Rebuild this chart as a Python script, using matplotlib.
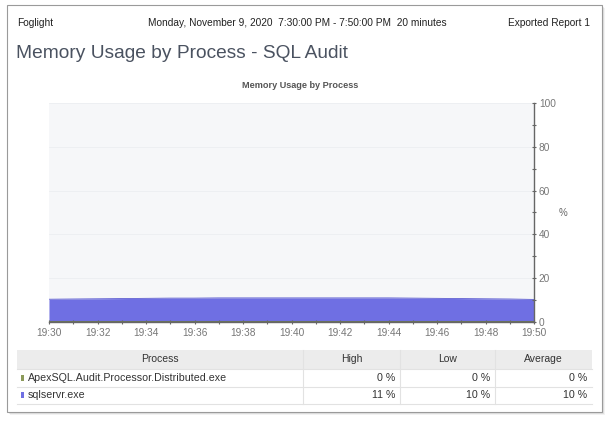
import matplotlib.pyplot as plt
from matplotlib.patches import Rectangle

plt.rcParams['font.family'] = ['Liberation Sans', 'DejaVu Sans']

# time axis in minutes after 19:30
minutes = list(range(0, 21))
sqlservr = [10.4, 10.5, 10.6, 10.7, 10.8, 10.9, 10.9, 11.0, 11.0, 11.0, 11.0,
            11.0, 11.0, 11.0, 11.0, 10.9, 10.8, 10.7, 10.6, 10.5, 10.3]
apexsql = [0.0] * 21
tick_labels = ['19:30', '19:32', '19:34', '19:36', '19:38', '19:40',
               '19:42', '19:44', '19:46', '19:48', '19:50']

processes = ['ApexSQL.Audit.Processor.Distributed.exe', 'sqlservr.exe']
colors = ['#8c9a5a', '#6f6fe3']
high = ['0 %', '11 %']
low = ['0 %', '10 %']
avg = ['0 %', '10 %']

W, H = 609, 423
fig = plt.figure(figsize=(W / 100, H / 100), dpi=100)


def px(x0, y0, x1, y1):
    # pixel box (top-left origin) -> figure fraction
    return [x0 / W, 1 - y1 / H, (x1 - x0) / W, (y1 - y0) / H]


# card with shadow
bg = fig.add_axes([0, 0, 1, 1])
bg.set_xlim(0, W)
bg.set_ylim(H, 0)
bg.axis('off')
for i, a in enumerate([0.05, 0.08, 0.12]):
    bg.add_patch(Rectangle((7 + 3 - i, 5 + 3 - i), 595, 407, fc='#000000', alpha=a, lw=0))
bg.add_patch(Rectangle((7, 5), 595, 407, fc='white', ec='#9a9a9a', lw=0.8))

bg.text(17, 23, 'Foglight', fontsize=7.3, color='#222222', va='center')
bg.text(148, 23, 'Monday, November 9, 2020  7:30:00 PM - 7:50:00 PM  20 minutes',
        fontsize=7.3, color='#222222', va='center')
bg.text(590, 23, 'Exported Report 1', fontsize=7.3, color='#222222', va='center', ha='right')
bg.text(16, 54, 'Memory Usage by Process - SQL Audit', fontsize=13.8, color='#4a5260', va='center')
bg.text(300, 85, 'Memory Usage by Process', fontsize=6.6, color='#555555',
        va='center', ha='center', fontweight='bold')

# chart
ax = fig.add_axes(px(49, 103, 534, 322))
ax.set_facecolor('#f6f7f9')
ax.fill_between(minutes, 0, sqlservr, color=colors[1], lw=0)
ax.plot(minutes, sqlservr, color='#5a5ad0', lw=0.6)
ax.plot(minutes, apexsql, color='#6b735a', lw=1.5)
ax.set_xlim(0, 20)
ax.set_ylim(0, 100)
ax.set_xticks(range(0, 21, 2))
ax.set_xticks(range(0, 21), minor=True)
ax.set_xticklabels(tick_labels)
ax.set_yticks(range(0, 101, 20))
ax.set_yticks(range(0, 101, 10), minor=True)
ax.yaxis.tick_right()
ax.yaxis.set_label_position('right')
ax.set_ylabel('%', rotation=0, fontsize=7, color='#666666', labelpad=5, va='center')
ax.grid(axis='y', which='major', color='#eceef1', lw=0.6)
for s in ['top', 'left']:
    ax.spines[s].set_visible(False)
for s in ['right', 'bottom']:
    ax.spines[s].set_color('#666666')
    ax.spines[s].set_linewidth(1.0)
ax.tick_params(axis='both', which='both', colors='#666666', labelsize=7.3,
               labelcolor='#777777', length=3, width=0.8, direction='inout')
ax.tick_params(axis='x', pad=3)
ax.tick_params(axis='y', pad=2)

# table
col_x = [17, 303, 400, 495, 592]
row_y = [350, 369, 387, 404]
bg.add_patch(Rectangle((col_x[0], row_y[0]), col_x[-1] - col_x[0], row_y[1] - row_y[0],
                       fc='#ececec', ec='none'))
for y in row_y[1:]:
    bg.plot([col_x[0], col_x[-1]], [y, y], color='#e2e2e2', lw=0.8)
for x in col_x[1:-1]:
    bg.plot([x, x], [row_y[0], row_y[-1]], color='#e2e2e2', lw=0.8)
headers = ['Process', 'High', 'Low', 'Average']
for j, h in enumerate(headers):
    bg.text((col_x[j] + col_x[j + 1]) / 2, (row_y[0] + row_y[1]) / 2, h,
            fontsize=7.5, color='#333333', ha='center', va='center')
for i, name in enumerate(processes):
    yc = (row_y[i + 1] + row_y[i + 2]) / 2
    bg.add_patch(Rectangle((20.5, yc - 3), 3.5, 6, fc=colors[i], ec='none'))
    bg.text(28, yc, name, fontsize=7.7, color='#333333', va='center')
    for j, v in enumerate([high[i], low[i], avg[i]]):
        bg.text(col_x[j + 2] - 5, yc, v, fontsize=7.7, color='#333333', ha='right', va='center')

fig.savefig('out.png', dpi=100)
